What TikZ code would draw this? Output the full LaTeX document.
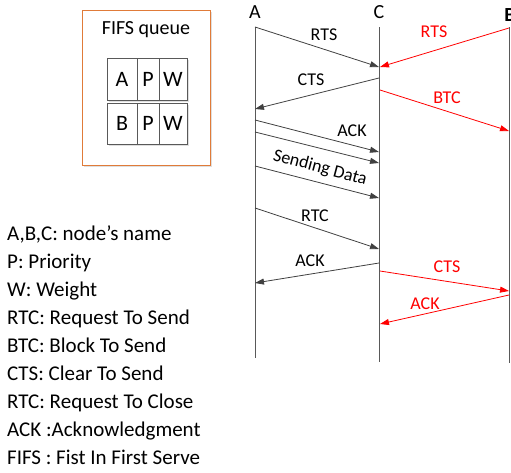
\documentclass[tikz,border=0pt]{standalone}
\usepackage{fontspec}
\setmainfont{Carlito}
\usetikzlibrary{arrows.meta,shadows}
\definecolor{dgray}{HTML}{404040}
\definecolor{lgray}{HTML}{595959}
\definecolor{qorange}{HTML}{E07B39}
\begin{document}
\begin{tikzpicture}[x=1pt,y=-1pt,
  msg/.style={draw=dgray, line width=0.8pt, -{Triangle[length=9pt,width=6pt]}},
  rmsg/.style={draw=red, line width=0.8pt, -{Triangle[length=9pt,width=6pt]}},
  life/.style={draw=lgray, line width=0.8pt},
  lbl/.style={font=\fontsize{18}{20}\selectfont, inner sep=0pt},
  rlbl/.style={lbl, text=red},
  head/.style={font=\fontsize{20}{22}\selectfont, inner sep=0pt},
  legend/.style={font=\fontsize{21}{23}\selectfont, inner sep=0pt, anchor=base west},
  cell/.style={draw=lgray, line width=0.8pt, fill=white, inner sep=0pt, outer sep=0pt,
    font=\fontsize{22}{23}\selectfont,
    drop shadow={shadow xshift=1.5pt, shadow yshift=-1.5pt, opacity=0.25}},
  qbox/.style={draw=qorange, line width=0.8pt, fill=white, inner sep=0pt,
    minimum width=128pt, minimum height=155pt,
    drop shadow={shadow xshift=2pt, shadow yshift=-2pt, opacity=0.25}}
]
\useasboundingbox (0,0) rectangle (511,472);

% queue box
\node[qbox] (queue) at (146,87.5) {};
\node[head] (qtitle) at (146,30) {FIFS queue};
\node[cell, minimum width=30pt, minimum height=42pt] (c11) at (122,79) {A};
\node[cell, minimum width=22pt, minimum height=42pt] (c12) at (148,79) {P};
\node[cell, minimum width=28pt, minimum height=42pt] (c13) at (173,79) {W};
\node[cell, minimum width=30pt, minimum height=41pt] (c21) at (122,123.5) {B};
\node[cell, minimum width=22pt, minimum height=41pt] (c22) at (148,123.5) {P};
\node[cell, minimum width=28pt, minimum height=41pt] (c23) at (173,123.5) {W};

% lifelines
\node[head] (Alab) at (255,12) {A};
\node[head] (Clab) at (379,12) {C};
\node[head, font=\fontsize{20}{22}\selectfont\bfseries] (Blab) at (510,15) {B};
\coordinate (At) at (255,27); \coordinate (Ab) at (255,358);
\coordinate (Ct) at (379,27); \coordinate (Cb) at (379,362);
\coordinate (Bt) at (509,27); \coordinate (Bb) at (509,363);
\draw[life] (At) -- (Ab);
\draw[life] (Ct) -- (Cb);
\draw[life] (Bt) -- (Bb);

% message endpoints
\coordinate (m1s) at (255,27);  \coordinate (m1e) at (379,67);
\coordinate (m2s) at (509,28);  \coordinate (m2e) at (380,67);
\coordinate (m3s) at (379,78);  \coordinate (m3e) at (255,109);
\coordinate (m4s) at (380,90);  \coordinate (m4e) at (509,131);
\coordinate (m5s) at (255,120); \coordinate (m5e) at (379,152);
\coordinate (m6s) at (255,132); \coordinate (m6e) at (379,163);
\coordinate (m7s) at (255,166); \coordinate (m7e) at (379,198);
\coordinate (m8s) at (255,208); \coordinate (m8e) at (379,249);
\coordinate (m9s) at (379,263); \coordinate (m9e) at (255,283);
\coordinate (m10s) at (380,271); \coordinate (m10e) at (509,291);
\coordinate (m11s) at (509,295); \coordinate (m11e) at (380,324);

\draw[msg] (m1s) -- (m1e);
\draw[rmsg] (m2s) -- (m2e);
\draw[msg] (m3s) -- (m3e);
\draw[rmsg] (m4s) -- (m4e);
\draw[msg] (m5s) -- (m5e);
\draw[msg] (m6s) -- (m6e);
\draw[msg] (m7s) -- (m7e);
\draw[msg] (m8s) -- (m8e);
\draw[msg] (m9s) -- (m9e);
\draw[rmsg] (m10s) -- (m10e);
\draw[rmsg] (m11s) -- (m11e);

% labels
\node[lbl] (l1) at (324,35) {RTS};
\node[rlbl] (l2) at (434,32) {RTS};
\node[lbl] (l3) at (311,80) {CTS};
\node[rlbl] (l4) at (447,98) {BTC};
\node[lbl] (l5) at (352,131) {ACK};
\node[lbl, rotate=-15] (l6) at (320,168) {Sending Data};
\node[lbl] (l7) at (315,216) {RTC};
\node[lbl] (l8) at (310,261) {ACK};
\node[rlbl] (l9) at (447,267) {CTS};
\node[rlbl] (l10) at (425,304) {ACK};

% legend
\node[legend] (g1) at (7,240) {A,B,C: node’s name};
\node[legend] (g2) at (7,268) {P: Priority};
\node[legend] (g3) at (7,296) {W: Weight};
\node[legend] (g4) at (7,324) {RTC: Request To Send};
\node[legend] (g5) at (7,352) {BTC: Block To Send};
\node[legend] (g6) at (7,380) {CTS: Clear To Send};
\node[legend] (g7) at (7,408) {RTC: Request To Close};
\node[legend] (g8) at (7,436) {ACK :Acknowledgment};
\node[legend] (g9) at (7,464) {FIFS : Fist In First Serve};
\end{tikzpicture}
\end{document}
